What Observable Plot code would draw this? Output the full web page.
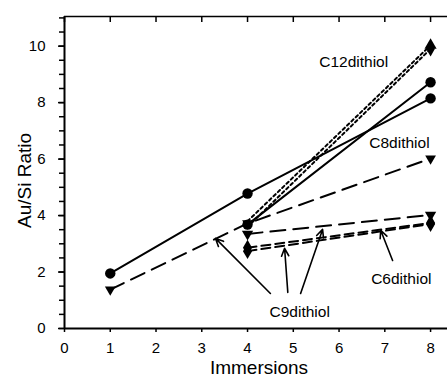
<!DOCTYPE html>
<html>
<head>
<meta charset="utf-8">
<script src="https://cdn.jsdelivr.net/npm/d3@7"></script>
<script src="https://cdn.jsdelivr.net/npm/@observablehq/plot@0.6"></script>
<style>
  body { margin: 0; background: #fff; }
  svg { display: block; }
</style>
</head>
<body>
<div id="chart"></div>
<script>
// Au/Si ratio measured after repeated immersions, per dithiol and run
const c8RunAImm = [1, 4, 8];   const c8RunA = [1.95, 4.78, 8.15];
const c8RunBImm = [4, 8];      const c8RunB = [3.68, 8.72];
const c12RunAImm = [4, 8];     const c12RunA = [3.8, 10.03];
const c12RunBImm = [4, 8];     const c12RunB = [3.6, 9.9];
const c9RunAImm = [1, 4, 8];   const c9RunA = [1.38, 3.72, 6.02];
const c9RunBImm = [4, 8];      const c9RunB = [3.35, 4.02];
const c9RunCImm = [4, 8];      const c9RunC = [2.74, 3.7];
const c6RunImm = [4, 8];       const c6Run = [2.86, 3.74];

// Axis ticks
const xTicks = [0, 1, 2, 3, 4, 5, 6, 7, 8];
const yTicks = [0, 2, 4, 6, 8, 10];
const yMinorTicks = d3.range(0, 11.01, 0.5);

// Annotations
const labelText = ["C12dithiol", "C8dithiol", "C6dithiol", "C9dithiol"];
const labelImm = [6.32, 7.32, 7.36, 5.14];
const labelRatio = [9.42, 6.56, 1.74, 0.57];

const arrowFromImm = [4.5, 4.88, 5.16, 7.17];
const arrowFromRatio = [1.24, 1.28, 1.24, 2.41];
const arrowToImm = [3.3, 4.81, 5.64, 6.91];
const arrowToRatio = [3.19, 2.84, 3.51, 3.48];

const rows = (xs, ys) => xs.map((x, i) => ({x, y: ys[i]}));

const solid = {stroke: "black", strokeWidth: 2};
const longDash = {stroke: "black", strokeWidth: 2, strokeDasharray: "15,8"};
const shortDash = {stroke: "black", strokeWidth: 2, strokeDasharray: "9,5"};
const dotted = {stroke: "black", strokeWidth: 2, strokeDasharray: "3,3"};

// markersFrom: index of the first point that carries a marker
const series = [
  {d: rows(c8RunAImm, c8RunA), line: solid, symbol: "circle", r: 5.2},
  {d: rows(c8RunBImm, c8RunB), line: solid, symbol: "circle", r: 5.2},
  {d: rows(c12RunAImm, c12RunA), line: dotted, symbol: "triangle", r: 4.5, markersFrom: 1},
  {d: rows(c12RunBImm, c12RunB), line: dotted, symbol: "diamond", r: 4.5, markersFrom: 1},
  {d: rows(c9RunAImm, c9RunA), line: longDash, symbol: "triangle", r: 4, rotate: 180},
  {d: rows(c9RunBImm, c9RunB), line: longDash, symbol: "triangle", r: 4.2, rotate: 180},
  {d: rows(c9RunCImm, c9RunC), line: shortDash, symbol: "diamond", r: 4.8},
  {d: rows(c6RunImm, c6Run), line: shortDash, symbol: "diamond", r: 4.8}
];

const lineMarks = series.map(s => Plot.line(s.d, {x: "x", y: "y", ...s.line}));
// circles drawn last so they sit on top
const order = [2, 3, 4, 5, 6, 7, 0, 1];
const dotMarks = order.map(i => {
  const s = series[i];
  return Plot.dot(s.d.slice(s.markersFrom || 0), {x: "x", y: "y", symbol: s.symbol, r: s.r, fill: "black", stroke: "none", rotate: s.rotate || 0});
});

const labels = labelText.map((t, i) => ({t, x: labelImm[i], y: labelRatio[i]}));
const arrows = arrowFromImm.map((x1, i) => ({x1, y1: arrowFromRatio[i], x2: arrowToImm[i], y2: arrowToRatio[i]}));

const chart = Plot.plot({
  width: 447,
  height: 378,
  marginLeft: 64,
  marginRight: 0,
  marginTop: 16,
  marginBottom: 50,
  style: {fontFamily: "'Liberation Sans', Arial, sans-serif", fontSize: "15px", color: "black", background: "white"},
  x: {domain: [0, 8.37], axis: null},
  y: {domain: [0, 11.05], axis: null},
  marks: [
    // frame lines
    Plot.ruleX([0], {stroke: "black", strokeWidth: 2}),
    Plot.ruleY([0], {stroke: "black", strokeWidth: 2}),
    Plot.ruleY([11.05], {stroke: "black", strokeWidth: 1.5}),
    // y axis: labelled majors plus half-unit minors
    Plot.axisY({ticks: yMinorTicks, tickSize: 5, fill: "none", label: null, strokeWidth: 1.5}),
    Plot.axisY({ticks: yTicks, tickSize: 6, tickPadding: 13, fontSize: 15, label: null, strokeWidth: 1.5}),
    // x axis: bottom with labels, top with inward ticks
    Plot.axisX({ticks: xTicks, tickSize: 4, tickPadding: 10, fontSize: 15, label: null, strokeWidth: 1.5}),
    Plot.axisX({anchor: "top", ticks: xTicks, tickSize: -5, fill: "none", label: null, strokeWidth: 1.5}),
    Plot.text(["Au/Si Ratio"], {frameAnchor: "left", textAnchor: "middle", dx: -40, dy: 8, rotate: -90, fontSize: 19, fill: "black"}),
    Plot.text(["Immersions"], {frameAnchor: "bottom", textAnchor: "middle", dx: 3, dy: 45, lineAnchor: "bottom", fontSize: 19, fill: "black"}),
    ...lineMarks,
    ...dotMarks,
    Plot.arrow(arrows, {x1: "x1", y1: "y1", x2: "x2", y2: "y2", stroke: "black", strokeWidth: 1.6, headLength: 8, headAngle: 50}),
    Plot.text(labels, {x: "x", y: "y", text: "t", fontSize: 15.5, fill: "black"})
  ]
});

document.getElementById("chart").appendChild(chart);
</script>
</body>
</html>
